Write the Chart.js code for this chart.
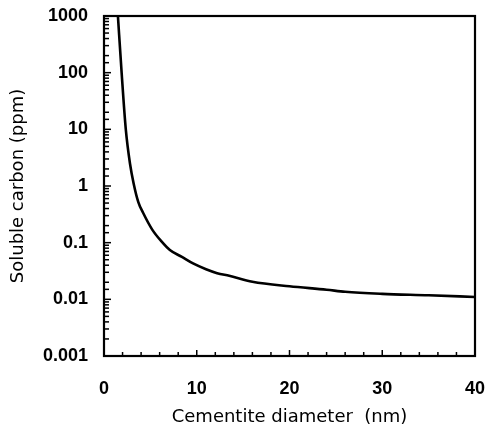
<!DOCTYPE html>
<html>
<head>
<meta charset="utf-8">
<script src="https://cdn.jsdelivr.net/npm/chart.js@4.4.1/dist/chart.umd.min.js"></script>
<style>
  html, body { margin: 0; padding: 0; background: #fff; }
  #wrap { width: 486px; height: 432px; }
</style>
</head>
<body>
<div id="wrap"><canvas id="carbonChart" width="486" height="432"></canvas></div>
<script>
// Cementite diameter (nm) and soluble carbon (ppm)
const diameters = [1.5, 1.9, 2.35, 2.8, 3.2, 3.7, 4.2, 5.2, 6.2, 7.1, 8.4, 9.6, 11, 12.2, 13.5, 16, 20, 24, 26, 30, 35, 40];
const solubleCarbon = [1000, 100, 10, 2.5, 1.1, 0.52, 0.34, 0.17, 0.105, 0.074, 0.056, 0.043, 0.034, 0.029, 0.026, 0.0205, 0.017, 0.0148, 0.0136, 0.0125, 0.0118, 0.011];

// decade labels on the log axis
const yDecades = [1000, 100, 10, 1, 0.1, 0.01, 0.001];
const yTickLabels = ['1000', '100', '10', '1', '0.1', '0.01', '0.001'];
const xTickLabels = ['0', '10', '20', '30', '40'];

const tickFont = { family: 'Liberation Sans, Arial, sans-serif', size: 18, weight: 'bold' };
const titleFont = { family: 'DejaVu Sans, sans-serif', size: 18 };

// box frame plus inward tick marks
const frameTicks = {
    id: 'frameTicks',
    afterDraw(chart) {
        const { ctx, chartArea: a, scales } = chart;
        ctx.save();
        ctx.strokeStyle = '#000';
        ctx.lineCap = 'butt';

        ctx.lineWidth = 1.5;
        scales.y.ticks.forEach(t => {
            const py = scales.y.getPixelForValue(t.value);
            const len = yDecades.some(d => Math.abs(Math.log10(t.value / d)) < 1e-6) ? 7 : 5;
            ctx.beginPath();
            ctx.moveTo(a.left, py);
            ctx.lineTo(a.left + len, py);
            ctx.stroke();
        });
        scales.x.ticks.forEach(t => {
            const px = scales.x.getPixelForValue(t.value);
            const len = t.value % 10 === 0 ? 6 : 4;
            ctx.beginPath();
            ctx.moveTo(px, a.bottom);
            ctx.lineTo(px, a.bottom - len);
            ctx.stroke();
        });

        ctx.lineWidth = 2.2;
        ctx.strokeRect(a.left, a.top, a.right - a.left, a.bottom - a.top);
        ctx.restore();
    }
};

new Chart(document.getElementById('carbonChart'), {
    type: 'line',
    data: {
        datasets: [{
            data: diameters.map((d, i) => ({ x: d, y: solubleCarbon[i] })),
            borderColor: '#000',
            borderWidth: 2.6,
            pointRadius: 0,
            cubicInterpolationMode: 'monotone',
            fill: false
        }]
    },
    options: {
        responsive: false,
        animation: false,
        devicePixelRatio: 1,
        layout: { padding: { top: 16, right: 11, bottom: 0, left: 0 } },
        plugins: { legend: { display: false }, tooltip: { enabled: false } },
        scales: {
            x: {
                type: 'linear',
                min: 0,
                max: 40,
                grid: { display: false, drawTicks: false },
                border: { display: false },
                ticks: {
                    stepSize: 2,
                    autoSkip: false,
                    maxRotation: 0,
                    padding: 22,
                    color: '#000',
                    font: tickFont,
                    callback: v => v % 10 === 0 ? xTickLabels[v / 10] : ''
                },
                title: {
                    display: true,
                    text: 'Cementite diameter  (nm)',
                    color: '#000',
                    font: titleFont,
                    padding: { top: 0, bottom: 4 }
                },
                afterFit: s => {
                    s.height = 76;
                    s.paddingLeft = 0;
                    s.paddingRight = 0;
                }
            },
            y: {
                type: 'logarithmic',
                min: 0.001,
                max: 1000,
                grid: { display: false, drawTicks: false },
                border: { display: false },
                ticks: {
                    autoSkip: false,
                    padding: 16,
                    color: '#000',
                    font: tickFont,
                    callback: v => {
                        const i = yDecades.findIndex(d => Math.abs(Math.log10(v / d)) < 1e-6);
                        return i >= 0 ? yTickLabels[i] : '';
                    }
                },
                title: {
                    display: true,
                    text: 'Soluble carbon (ppm)',
                    color: '#000',
                    font: titleFont,
                    padding: { top: 8, bottom: 0 }
                },
                afterFit: s => {
                    s.width = 104;
                    s.paddingTop = 0;
                    s.paddingBottom = 0;
                }
            }
        }
    },
    plugins: [frameTicks]
});
</script>
</body>
</html>
